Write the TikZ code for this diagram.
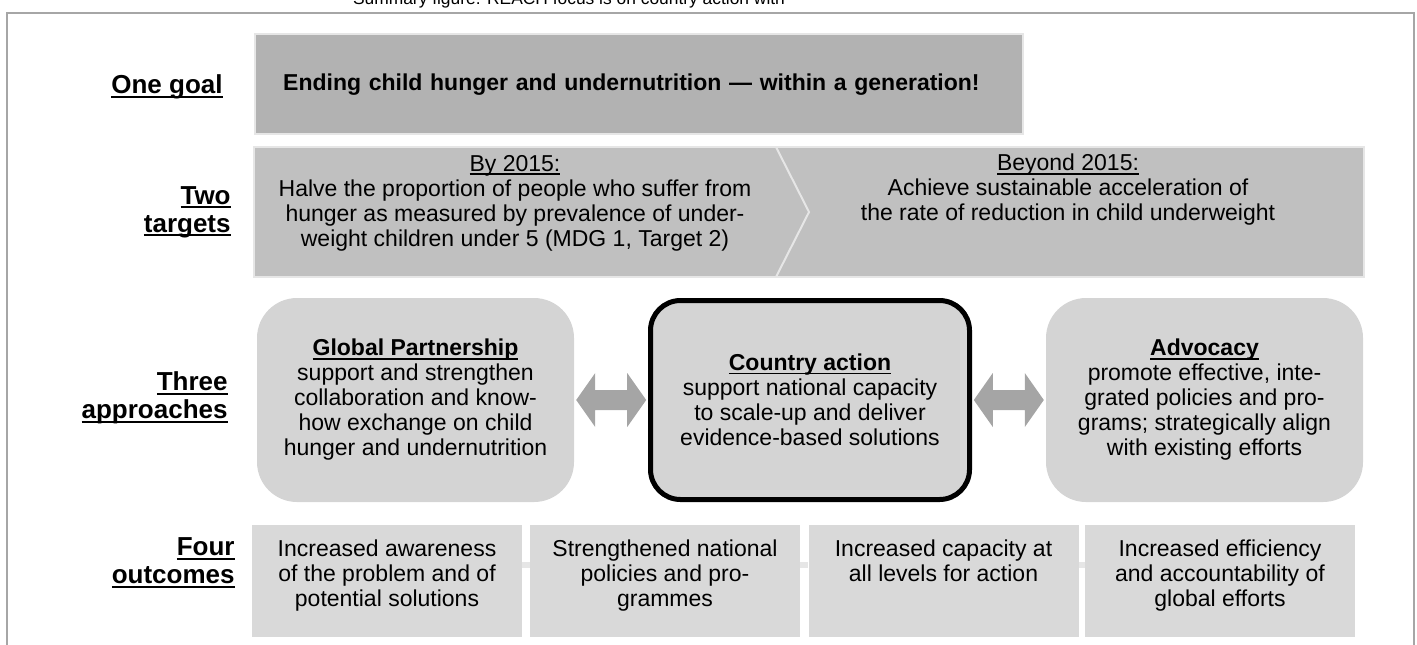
\documentclass[tikz,border=0pt]{standalone}
\usepackage{fontspec}
\setmainfont{Liberation Sans}
\usetikzlibrary{calc}

\definecolor{goalgray}{HTML}{B2B2B2}
\definecolor{targetgray}{HTML}{C0C0C0}
\definecolor{appgray}{HTML}{D4D4D4}
\definecolor{outgray}{HTML}{D9D9D9}
\definecolor{arrowgray}{HTML}{A5A5A5}
\definecolor{edgegray}{HTML}{E6E6E6}
\definecolor{framegray}{HTML}{A6A6A6}

% underline sitting just under the baseline
\newcommand{\undl}[1]{\setbox0\hbox{#1}\rlap{\rule[-0.3ex]{\wd0}{0.15ex}}\box0}

\tikzset{
  dblarrow/.pic={
    \fill[arrowgray] (-35,0) -- (-16,-27) -- (-16,-10) -- (16,-10) -- (16,-27)
      -- (35,0) -- (16,27) -- (16,10) -- (-16,10) -- (-16,27) -- cycle;
  }
}

\begin{document}
\begin{tikzpicture}[x=0.5pt,y=-0.5pt,
  body/.style={font=\fontsize{11.5}{12.5}\selectfont, align=center, inner sep=0pt},
  lbl/.style={font=\fontsize{13}{14}\selectfont\bfseries, align=right, anchor=east, inner sep=0pt},
  goalbox/.style={fill=goalgray, draw=edgegray, line width=1.2pt, align=left,
    font=\fontsize{11.5}{12.5}\selectfont\bfseries},
  appbox/.style={body, fill=appgray, rounded corners=20pt, minimum width=158.5pt, minimum height=102pt},
  outbox/.style={fill=outgray, minimum width=135pt, minimum height=56pt, inner sep=0pt},
  outtext/.style={body, anchor=north}]

% Define the page
\useasboundingbox (0,0) rectangle (1417,644);
\clip (0,0) rectangle (1417,644);

% Title, cut off at the top
\node[anchor=base, inner sep=0pt, font=\fontsize{8.7}{10}\selectfont] (title) at (569,4)
  {Summary figure: REACH focus is on country action with};

% Outer frame
\draw[framegray, line width=0.75pt] (7,13) rectangle (1414,720);

% One goal
\node[lbl] (lgoal) at (223,87) {\undl{One goal}};
\node[goalbox, anchor=north west, text width=356pt, inner xsep=14pt, minimum height=50pt] (goal) at (254,33)
  {Ending child hunger and undernutrition — within a generation!};

% Two targets
\node[lbl] (ltargets) at (231,212) {\undl{Two}\\\undl{targets}};
\filldraw[fill=targetgray, draw=edgegray, line width=1pt] (254,147) rectangle (1364,277);
\draw[edgegray, line width=1pt] (776,147) -- (809,212) -- (776,277);
\node[body] (by) at (515,203) {\undl{By 2015:}\\Halve the proportion of people who suffer from\\hunger as measured by prevalence of under-\\weight children under 5 (MDG 1, Target 2)};
\node[body] (beyond) at (1068,190) {\undl{Beyond 2015:}\\Achieve sustainable acceleration of\\the rate of reduction in child underweight};

% Three approaches
\node[lbl] (lapp) at (228,398) {\undl{Three}\\\undl{approaches}};
\node[appbox] (gp) at (415.5,400) {\textbf{\undl{Global Partnership}}\\support and strengthen\\collaboration and know-\\how exchange on child\\hunger and undernutrition};
\node[appbox, draw=black, line width=2.5pt, rounded corners=15pt, minimum width=159.5pt, minimum height=99.5pt] (ca) at (810,400)
  {\textbf{\undl{Country action}}\\support national capacity\\to scale-up and deliver\\evidence-based solutions};
\node[appbox] (adv) at (1204.5,400) {\textbf{\undl{Advocacy}}\\promote effective, inte-\\grated policies and pro-\\grams; strategically align\\with existing efforts};

% Arrows between approaches
\pic at ($(gp.east)!0.5!(ca.west)$) {dblarrow};
\pic at ($(ca.east)!0.5!(adv.west)$) {dblarrow};

% Four outcomes
\node[lbl] (lout) at (235,563) {\undl{Four}\\\undl{outcomes}};
\node[outbox] (o1) at (387,581) {};
\node[outbox] (o2) at (665,581) {};
\node[outbox] (o3) at (943.5,581) {};
\node[outbox] (o4) at (1220,581) {};
\draw[edgegray, line width=3pt] ($(o1.east)+(0,-16)$) -- ($(o2.west)+(0,-16)$);
\draw[edgegray, line width=3pt] ($(o2.east)+(0,-16)$) -- ($(o3.west)+(0,-16)$);
\draw[edgegray, line width=3pt] ($(o3.east)+(0,-16)$) -- ($(o4.west)+(0,-16)$);
\node[outtext] (o1t) at ([yshift=-7.5pt]o1.north) {Increased awareness\\of the problem and of\\potential solutions};
\node[outtext] (o2t) at ([yshift=-7.5pt]o2.north) {Strengthened national\\policies and pro-\\grammes};
\node[outtext] (o3t) at ([yshift=-7.5pt]o3.north) {Increased capacity at\\all levels for action};
\node[outtext] (o4t) at ([yshift=-7.5pt]o4.north) {Increased efficiency\\and accountability of\\global efforts};

\end{tikzpicture}
\end{document}
